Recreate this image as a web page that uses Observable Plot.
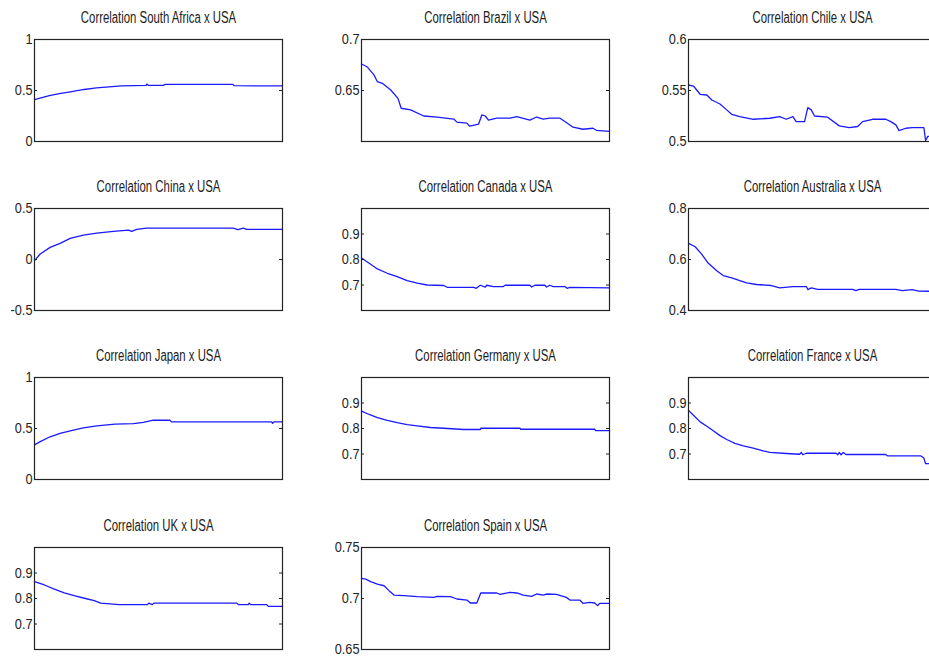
<!DOCTYPE html>
<html><head><meta charset="utf-8">
<script src="https://cdn.jsdelivr.net/npm/d3@7"></script>
<script src="https://cdn.jsdelivr.net/npm/@observablehq/plot@0.6"></script>
<style>
body{margin:0;background:#fff;}
#chart{position:relative;width:929px;height:659px;overflow:hidden;background:#fff;}
#chart > .panel{position:absolute;}
#chart svg{max-width:none !important;}
</style></head><body><div id="chart"></div>
<script>
// Titles
const titles = ["Correlation South Africa x USA","Correlation Brazil x USA","Correlation Chile x USA",
  "Correlation China x USA","Correlation Canada x USA","Correlation Australia x USA",
  "Correlation Japan x USA","Correlation Germany x USA","Correlation France x USA",
  "Correlation UK x USA","Correlation Spain x USA"];

// y-axis ranges and tick labels
const yDomains = [[0,1],[0.6,0.7],[0.5,0.6],[-0.5,0.5],[0.6,1.0],[0.4,0.8],[0,1],[0.6,1.0],[0.6,1.0],[0.6,1.0],[0.65,0.75]];
const yTicks = [[0,0.5,1],[0.65,0.7],[0.5,0.55,0.6],[-0.5,0,0.5],[0.7,0.8,0.9],[0.4,0.6,0.8],[0,0.5,1],[0.7,0.8,0.9],[0.7,0.8,0.9],[0.7,0.8,0.9],[0.65,0.7,0.75]];

// series: [position along sample (0-100), correlation]
const southAfrica = [[0,0.41],[3,0.43],[6,0.45],[10,0.47],[15,0.49],[20,0.51],[25,0.525],[30,0.535],[35,0.545],[45,0.55],[45.3,0.563],[46,0.55],[52,0.55],[52.5,0.56],[80,0.56],[80.5,0.547],[100,0.545]];
const brazil = [[0,0.676],[2.4,0.673],[5.1,0.665],[6.4,0.6586],[8.4,0.657],[11.8,0.6505],[14.7,0.6423],[16,0.6326],[19.8,0.631],[25.1,0.625],[30.5,0.6238],[37.2,0.622],[38.5,0.619],[42.5,0.618],[43.6,0.615],[47.2,0.617],[48.5,0.626],[49.9,0.625],[51.2,0.621],[54.5,0.623],[59.9,0.623],[62.6,0.6244],[67.9,0.621],[70.6,0.624],[73.3,0.622],[75.9,0.623],[79.9,0.623],[82.6,0.6186],[85.3,0.614],[89.3,0.612],[93.3,0.613],[94.7,0.611],[100,0.610]];
const chile = [[0,0.5554],[2,0.5544],[4.7,0.5463],[7.4,0.5456],[9.4,0.5407],[12.7,0.5368],[15.4,0.531],[17.4,0.5267],[20.7,0.5244],[26.1,0.5218],[32.8,0.5228],[36.8,0.5244],[39.4,0.5218],[42.1,0.5244],[43.4,0.5195],[46.8,0.5195],[48.1,0.5332],[49.5,0.531],[50.8,0.525],[56.1,0.5238],[60.8,0.5153],[64.8,0.5137],[68.2,0.5147],[70.2,0.5195],[74.2,0.5218],[79.5,0.5218],[81.6,0.5195],[83.6,0.5163],[84.9,0.5107],[87.6,0.513],[90.2,0.5137],[94.9,0.5137],[95.6,0.501],[96.5,0.505],[100,0.505]];
const china = [[0,-0.011],[2.3,0.054],[6.3,0.119],[10.3,0.158],[14.4,0.207],[19.7,0.239],[25.1,0.259],[31.8,0.275],[37.9,0.288],[39.2,0.275],[41.2,0.295],[45.2,0.308],[80.1,0.308],[82.1,0.292],[84.2,0.308],[85.5,0.295],[100,0.295]];
const canada = [[0,0.806],[3.1,0.785],[6.4,0.763],[10.4,0.746],[14.4,0.733],[18.4,0.717],[22.5,0.707],[26.5,0.700],[33.2,0.698],[34.5,0.691],[45.2,0.691],[46.3,0.687],[47.9,0.699],[49.9,0.692],[50.5,0.699],[53.2,0.694],[57.2,0.694],[57.9,0.699],[67.9,0.699],[68.6,0.692],[69.9,0.699],[73.9,0.699],[74.6,0.692],[75.9,0.699],[77.3,0.694],[82,0.694],[82.9,0.687],[84,0.691],[100,0.689]];
const australia = [[0,0.663],[2.7,0.650],[5.3,0.621],[8,0.585],[11.4,0.556],[14,0.537],[17.4,0.528],[20.7,0.517],[23.4,0.508],[27.4,0.502],[33.4,0.498],[36.8,0.489],[42.1,0.494],[47.5,0.494],[48.1,0.482],[49.5,0.489],[52.1,0.483],[66.2,0.483],[67.5,0.478],[68.9,0.483],[83.6,0.483],[86.2,0.478],[90.2,0.482],[92.9,0.476],[100,0.475]];
const japan = [[0,0.339],[2.3,0.371],[6.3,0.419],[10.3,0.452],[14.4,0.477],[19.7,0.506],[25.1,0.526],[32.5,0.542],[39.9,0.548],[43.9,0.561],[47.9,0.581],[54.6,0.581],[55.3,0.565],[95.6,0.565],[96,0.55],[96.5,0.565],[100,0.565]];
const germany = [[0,0.868],[3.1,0.855],[6.4,0.843],[10.4,0.832],[14.4,0.823],[18.4,0.815],[22.5,0.810],[27.8,0.804],[33.2,0.801],[41.2,0.796],[47.9,0.796],[48.1,0.801],[63.9,0.801],[64.2,0.797],[94,0.797],[94.4,0.792],[100,0.792]];
const france = [[0,0.871],[2,0.852],[4.7,0.826],[7.4,0.809],[10,0.791],[12.7,0.772],[15.4,0.757],[18.7,0.742],[22.1,0.732],[26.1,0.723],[30.1,0.712],[32.8,0.706],[39.4,0.702],[44.8,0.699],[45.5,0.706],[46.1,0.697],[47.5,0.703],[59.5,0.703],[60.2,0.697],[60.8,0.706],[61.5,0.697],[62.4,0.706],[63.5,0.698],[79.5,0.698],[80.2,0.693],[93.6,0.693],[94.9,0.684],[95.6,0.662],[100,0.662]];
const uk = [[0,0.866],[4,0.853],[8,0.837],[12,0.822],[16,0.811],[20.1,0.801],[24.1,0.792],[26.7,0.782],[34.1,0.776],[45.5,0.776],[46.1,0.782],[47.5,0.776],[48.1,0.782],[81.6,0.782],[82.2,0.776],[86.2,0.776],[86.6,0.782],[87.2,0.776],[93.6,0.776],[94.3,0.769],[100,0.769]];
const spain = [[0,0.7197],[1.7,0.719],[3.7,0.7165],[6.4,0.7142],[9.1,0.7125],[11.1,0.7077],[13.1,0.7034],[17.1,0.7028],[22.5,0.7018],[29.1,0.7011],[30.5,0.7021],[35.8,0.7018],[38.5,0.6995],[42.5,0.6985],[43.9,0.6956],[46.5,0.6956],[48.1,0.7054],[54.5,0.7054],[55.9,0.7041],[59.9,0.706],[62.6,0.7054],[65.2,0.7034],[68.6,0.7021],[70.6,0.7044],[73.3,0.7034],[74.6,0.7044],[78.6,0.7041],[82.6,0.7011],[84,0.6985],[88,0.6985],[89.3,0.6953],[92,0.6963],[94,0.6956],[95.3,0.693],[96,0.6953],[100,0.6953]];

const series = [southAfrica, brazil, chile, china, canada, australia, japan, germany, france, uk, spain];

// layout
const colLeft = [34, 361, 688];
const rowTop = [39, 208, 377, 547];
const W = 248, H = 102, ML = 40, MR = 12, MT = 34, MB = 8;
const FONT = "'Liberation Sans',Arial,sans-serif";

const chart = document.getElementById("chart");
series.forEach((data, i) => {
  const r = Math.floor(i / 3), c = i % 3;
  const ticks = yTicks[i];
  const p = Plot.plot({
    width: W + ML + MR, height: H + MT + MB,
    marginLeft: ML, marginRight: MR, marginTop: MT, marginBottom: MB,
    x: {domain: [0, 100], axis: null},
    y: {domain: yDomains[i], axis: null},
    style: {fontFamily: FONT, fontSize: "15px", color: "#222", background: "transparent", overflow: "visible"},
    marks: [
      Plot.line(data, {x: d => d[0], y: d => d[1], stroke: "#1a1aff", strokeWidth: 1.3}),
      Plot.frame({stroke: "#222", strokeWidth: 1.2}),
      Plot.tickY(ticks, {y: d => d, insetRight: W - 3, stroke: "#222"}),
      Plot.tickY(ticks, {y: d => d, insetLeft: W - 3, stroke: "#222"}),
      Plot.axisY(ticks, {anchor: "left", tickSize: 0, tickPadding: 2, tickFormat: d => String(d), label: null, fontSize: 15, fill: "#222"}),
      Plot.text([titles[i]], {frameAnchor: "top", lineAnchor: "middle", dy: -22, fontSize: 16, fill: "#222"})
    ]
  });
  const holder = document.createElement("div");
  holder.className = "panel";
  holder.style.left = (colLeft[c] - ML) + "px";
  holder.style.top = (rowTop[r] - MT) + "px";
  holder.style.width = (W + ML + MR) + "px";
  holder.appendChild(p);
  chart.appendChild(holder);
  // narrow the glyphs horizontally, like the condensed face of the original
  p.querySelectorAll("text").forEach(t => {
    const len = t.getComputedTextLength();
    if (!len) return;
    const k = titles.includes(t.textContent) ? 0.71 : 0.85;
    t.setAttribute("textLength", (len * k).toFixed(1));
    t.setAttribute("lengthAdjust", "spacingAndGlyphs");
  });
});
</script>
</body></html>
